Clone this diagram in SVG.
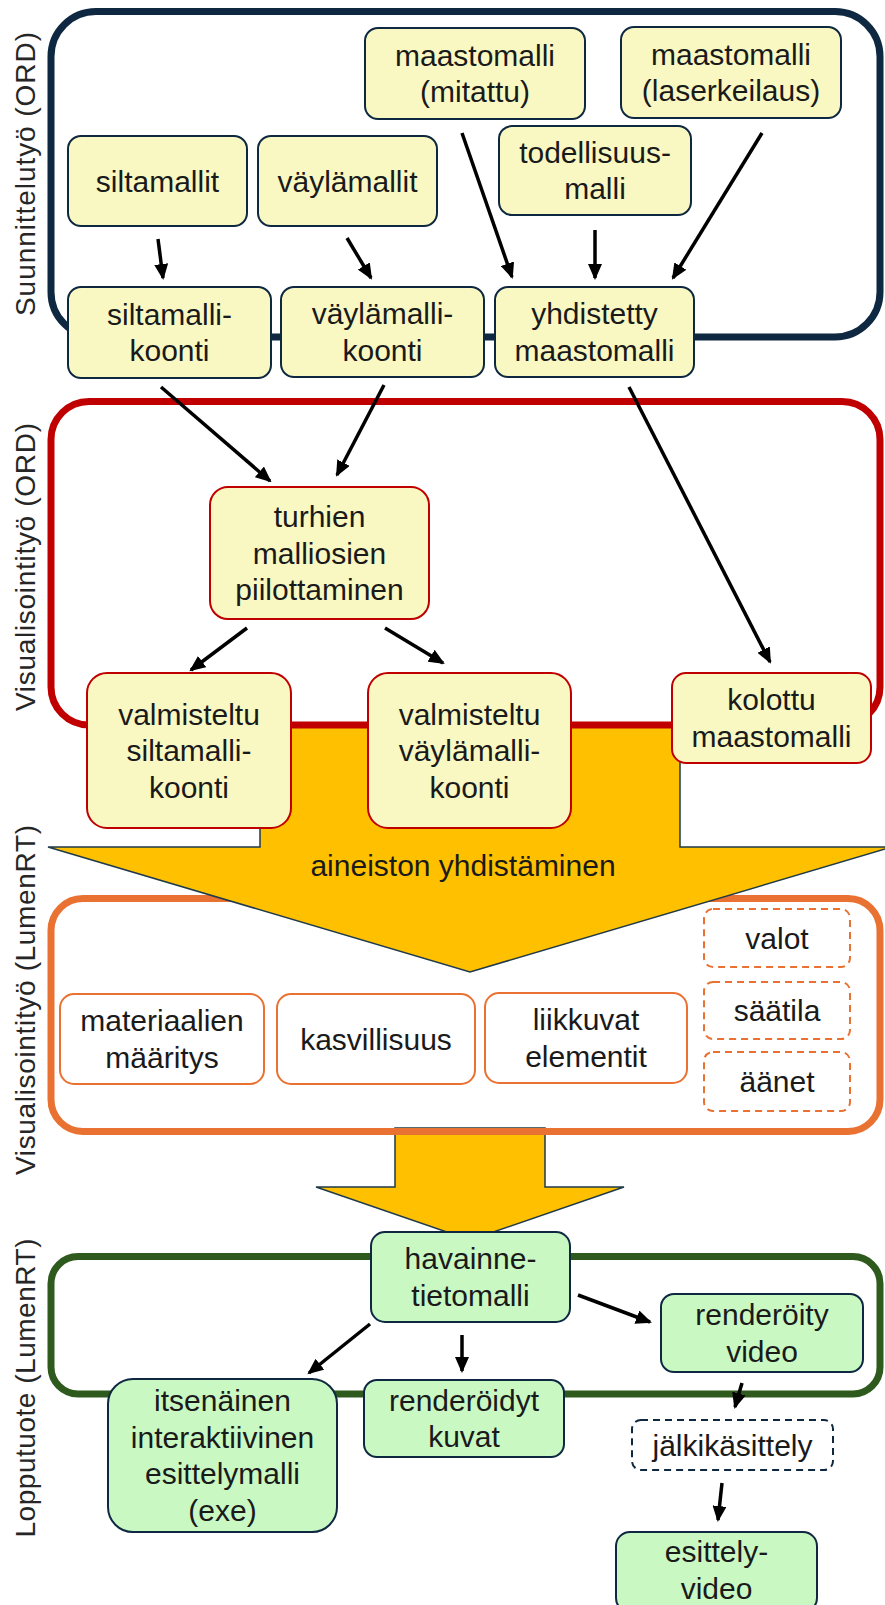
<svg xmlns="http://www.w3.org/2000/svg" width="885" height="1605" viewBox="0 0 885 1605">
<defs>
<style>
.t{font-family:"Liberation Sans",Arial,sans-serif;font-size:30px;fill:#1a1a1a;text-anchor:middle}
.lbl{font-family:"Liberation Sans",Arial,sans-serif;font-size:28px;fill:#262626;text-anchor:middle}
.ny{fill:#F9F8C2;stroke:#0E2841;stroke-width:2}
.nr{fill:#F9F8C2;stroke:#C00000;stroke-width:2}
.no{fill:#FFFFFF;stroke:#E97132;stroke-width:2}
.nod{fill:#FFFFFF;stroke:#E97132;stroke-width:2;stroke-dasharray:7 5}
.ng{fill:#C9F8C3;stroke:#0E2841;stroke-width:2}
.ngd{fill:#FFFFFF;stroke:#0E2841;stroke-width:2;stroke-dasharray:7 5}
.big{fill:#FFC000;stroke:#1F3A4A;stroke-width:1.5}
.c{stroke:#000;stroke-width:3.5;fill:none;marker-end:url(#ah)}
</style>
<marker id="ah" viewBox="0 0 4.6 4" refX="4" refY="2" markerWidth="4.6" markerHeight="4" markerUnits="strokeWidth" orient="auto">
<path d="M0,0 L4.6,2 L0,4 z" fill="#000"/>
</marker>
</defs>
<rect x="0" y="0" width="885" height="1605" fill="#FFFFFF"/>

<g id="containers">
<rect id="grp-suunnittelu" x="51" y="11.5" width="829" height="325.5" rx="45" fill="none" stroke="#0E2841" stroke-width="7"/>
<rect id="grp-lopputuote" x="51" y="1256.5" width="829" height="137.5" rx="27" fill="none" stroke="#2F5A1D" stroke-width="7"/>
</g>

<g id="big-arrows">
<polygon id="arrow-2" class="big" points="395,1128 545,1128 545,1187 624,1187 470,1240 316,1187 395,1187"/>
<rect id="grp-visualisointi-lumen" x="51" y="898.5" width="829" height="233" rx="32" fill="none" stroke="#E97132" stroke-width="7"/>
<polygon id="arrow-1" class="big" points="260,724 680,724 680,847 892,847 470,972 48,847 260,847"/>
<text class="t" x="463" y="876">aineiston yhdistäminen</text>
<rect id="grp-visualisointi-ord" x="51" y="401.5" width="829" height="323.5" rx="38" fill="none" stroke="#C00000" stroke-width="7"/>
</g>

<g id="labels">
<text class="lbl" x="35" y="174" transform="rotate(-90 35 174)" textLength="284" lengthAdjust="spacing">Suunnittelutyö (ORD)</text>
<text class="lbl" x="35" y="567" transform="rotate(-90 35 567)" textLength="288" lengthAdjust="spacing">Visualisointityö (ORD)</text>
<text class="lbl" x="35" y="1000" transform="rotate(-90 35 1000)" textLength="350" lengthAdjust="spacing">Visualisointityö (LumenRT)</text>
<text class="lbl" x="35" y="1388" transform="rotate(-90 35 1388)" textLength="299" lengthAdjust="spacing">Lopputuote (LumenRT)</text>
</g>

<g id="n-mitattu"><rect class="ny" x="365" y="28" width="220" height="91" rx="13"/><text class="t" x="475" y="66">maastomalli</text><text class="t" x="475" y="102">(mitattu)</text></g>
<g id="n-laser"><rect class="ny" x="621" y="27" width="220" height="91" rx="13"/><text class="t" x="731" y="65">maastomalli</text><text class="t" x="731" y="101">(laserkeilaus)</text></g>
<g id="n-todellisuus"><rect class="ny" x="499" y="126" width="192" height="89" rx="13"/><text class="t" x="595" y="163">todellisuus-</text><text class="t" x="595" y="199">malli</text></g>
<g id="n-siltamallit"><rect class="ny" x="68" y="136" width="179" height="90" rx="13"/><text class="t" x="157.5" y="191.5">siltamallit</text></g>
<g id="n-vaylamallit"><rect class="ny" x="258" y="136" width="179" height="90" rx="13"/><text class="t" x="347.5" y="191.5">väylämallit</text></g>
<g id="n-siltakoonti"><rect class="ny" x="68" y="287" width="203" height="91" rx="13"/><text class="t" x="169.5" y="325">siltamalli-</text><text class="t" x="169.5" y="361">koonti</text></g>
<g id="n-vaylakoonti"><rect class="ny" x="281" y="287" width="203" height="90" rx="13"/><text class="t" x="382.5" y="324">väylämalli-</text><text class="t" x="382.5" y="361">koonti</text></g>
<g id="n-yhdistetty"><rect class="ny" x="495" y="287" width="199" height="90" rx="13"/><text class="t" x="594.5" y="324">yhdistetty</text><text class="t" x="594.5" y="361">maastomalli</text></g>

<g id="n-turhien"><rect class="nr" x="210" y="487" width="219" height="132" rx="18"/><text class="t" x="319.5" y="527">turhien</text><text class="t" x="319.5" y="563.5">malliosien</text><text class="t" x="319.5" y="600">piilottaminen</text></g>
<g id="n-valm-silta"><rect class="nr" x="87" y="673" width="204" height="155" rx="20"/><text class="t" x="189" y="724.5">valmisteltu</text><text class="t" x="189" y="761">siltamalli-</text><text class="t" x="189" y="797.5">koonti</text></g>
<g id="n-valm-vayla"><rect class="nr" x="368" y="673" width="203" height="155" rx="20"/><text class="t" x="469.5" y="724.5">valmisteltu</text><text class="t" x="469.5" y="761">väylämalli-</text><text class="t" x="469.5" y="797.5">koonti</text></g>
<g id="n-kolottu"><rect class="nr" x="672" y="673" width="199" height="90" rx="14"/><text class="t" x="771.5" y="710">kolottu</text><text class="t" x="771.5" y="747">maastomalli</text></g>

<g id="n-materiaalit"><rect class="no" x="60" y="994" width="204" height="90" rx="14"/><text class="t" x="162" y="1031">materiaalien</text><text class="t" x="162" y="1068">määritys</text></g>
<g id="n-kasvillisuus"><rect class="no" x="277" y="994" width="198" height="90" rx="14"/><text class="t" x="376" y="1049.5">kasvillisuus</text></g>
<g id="n-liikkuvat"><rect class="no" x="485" y="993" width="202" height="90" rx="14"/><text class="t" x="586" y="1030">liikkuvat</text><text class="t" x="586" y="1067">elementit</text></g>
<g id="n-valot"><rect class="nod" x="704" y="909" width="146" height="58" rx="9"/><text class="t" x="777" y="948.5">valot</text></g>
<g id="n-saatila"><rect class="nod" x="704" y="982" width="146" height="57" rx="9"/><text class="t" x="777" y="1021">säätila</text></g>
<g id="n-aanet"><rect class="nod" x="704" y="1052" width="146" height="59" rx="9"/><text class="t" x="777" y="1092">äänet</text></g>

<g id="n-havainne"><rect class="ng" x="371" y="1232" width="199" height="90" rx="14"/><text class="t" x="470.5" y="1269">havainne-</text><text class="t" x="470.5" y="1306">tietomalli</text></g>
<g id="n-rvideo"><rect class="ng" x="661" y="1294" width="202" height="78" rx="13"/><text class="t" x="762" y="1325">renderöity</text><text class="t" x="762" y="1362">video</text></g>
<g id="n-itsenainen"><rect class="ng" x="108" y="1379" width="229" height="153" rx="25"/><text class="t" x="222.5" y="1411">itsenäinen</text><text class="t" x="222.5" y="1447.5">interaktiivinen</text><text class="t" x="222.5" y="1484">esittelymalli</text><text class="t" x="222.5" y="1520.5">(exe)</text></g>
<g id="n-kuvat"><rect class="ng" x="364" y="1380" width="200" height="77" rx="13"/><text class="t" x="464" y="1411">renderöidyt</text><text class="t" x="464" y="1447">kuvat</text></g>
<g id="n-jalki"><rect class="ngd" x="632" y="1420" width="201" height="50" rx="9"/><text class="t" x="732.5" y="1455.5">jälkikäsittely</text></g>
<g id="n-esittelyvideo"><rect class="ng" x="616" y="1532" width="201" height="80" rx="14"/><text class="t" x="716.5" y="1562">esittely-</text><text class="t" x="716.5" y="1599">video</text></g>

<g id="connectors">
<line class="c" x1="158" y1="239" x2="163" y2="278"/>
<line class="c" x1="347" y1="238" x2="371" y2="278"/>
<line class="c" x1="462" y1="133" x2="512" y2="277"/>
<line class="c" x1="595" y1="230" x2="595" y2="278"/>
<line class="c" x1="762" y1="133" x2="673" y2="278"/>
<line class="c" x1="161" y1="387" x2="270" y2="481"/>
<line class="c" x1="384" y1="385" x2="337" y2="475"/>
<line class="c" x1="629" y1="387" x2="770" y2="662"/>
<line class="c" x1="247" y1="628" x2="191" y2="670"/>
<line class="c" x1="385" y1="628" x2="443" y2="663"/>
<line class="c" x1="370" y1="1324" x2="309" y2="1373"/>
<line class="c" x1="462" y1="1335" x2="462" y2="1371"/>
<line class="c" x1="578" y1="1295" x2="650" y2="1322"/>
<line class="c" x1="742" y1="1383" x2="735" y2="1407"/>
<line class="c" x1="722" y1="1483" x2="718" y2="1520"/>
</g>
</svg>
